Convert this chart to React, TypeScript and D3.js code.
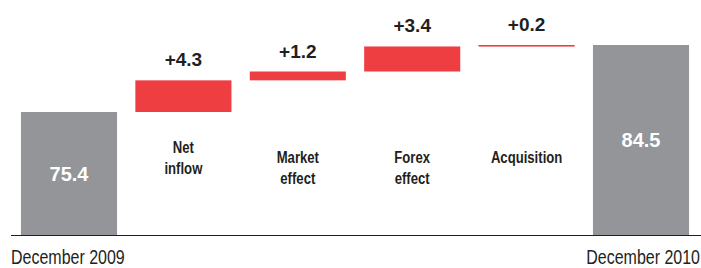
import React from "react";
import * as d3 from "d3";

const categories = ["December 2009", "Net inflow", "Market effect", "Forex effect", "Acquisition", "December 2010"];
const categoryLines = [[], ["Net", "inflow"], ["Market", "effect"], ["Forex", "effect"], ["Acquisition"], []];
const values = [75.4, 4.3, 1.2, 3.4, 0.2, 84.5];
const kinds = ["total", "delta", "delta", "delta", "delta", "total"];
const valueLabels = ["75.4", "+4.3", "+1.2", "+3.4", "+0.2", "84.5"];
const labelFirstBaseline = [0, 153, 163, 163, 163, 0];

const W = 701, H = 268;
const GRAY = "#939598";
const RED = "#EF3E42";
const DARK = "#231F20";
const SANS = "'Liberation Sans', Arial, sans-serif";
const NARROW_SCALE = 0.82;

function NarrowText(props: { x: number; y: number; anchor?: string; size: number; bold?: boolean; children: React.ReactNode }) {
  return (
    <text
      transform={`translate(${props.x},${props.y}) scale(${NARROW_SCALE},1)`}
      textAnchor={props.anchor || "middle"}
      fill={DARK}
      fontFamily={SANS}
      fontWeight={props.bold ? "bold" : "normal"}
      fontSize={props.size}
    >
      {props.children}
    </text>
  );
}

export default function App() {
  const x = d3.scaleBand<string>().domain(categories).range([11.8, 698.2]).paddingInner(0.16).paddingOuter(0.08);
  const y = d3.scaleLinear().domain([58.7, 84.5]).range([235, 45]);
  const base = y.domain()[0];

  let running = 0;
  const bars = categories.map((c, i) => {
    let lo: number, hi: number;
    if (kinds[i] === "total") {
      lo = base; hi = values[i]; running = values[i];
    } else {
      lo = running; hi = running + values[i]; running = hi;
    }
    return { c, i, lo, hi };
  });

  return (
    <svg width={W} height={H} style={{ position: "absolute", left: 0, top: 0 }}>
      {bars.map((b) => {
        const x0 = x(b.c)!;
        const bw = x.bandwidth();
        const yTop = y(b.hi);
        const yBot = y(b.lo);
        const cx = x0 + bw / 2;
        const isTotal = kinds[b.i] === "total";
        return (
          <g key={b.c}>
            <rect x={x0} y={yTop} width={bw} height={Math.max(yBot - yTop, 1.6)} fill={isTotal ? GRAY : RED} />
            {isTotal ? (
              <text x={cx} y={(yTop + yBot) / 2 + 7} textAnchor="middle" fill="#fff" fontFamily={SANS} fontWeight="bold" fontSize={20}>
                {valueLabels[b.i]}
              </text>
            ) : (
              <text x={cx} y={yTop - 14} textAnchor="middle" fill={DARK} fontFamily={SANS} fontWeight="bold" fontSize={19}>
                {valueLabels[b.i]}
              </text>
            )}
            {categoryLines[b.i].map((line, k) => (
              <NarrowText key={k} x={cx} y={labelFirstBaseline[b.i] + k * 21} size={16} bold>
                {line}
              </NarrowText>
            ))}
          </g>
        );
      })}
      <line x1={11} x2={701} y1={235.5} y2={235.5} stroke={DARK} strokeWidth={1} />
      <NarrowText x={11} y={264} anchor="start" size={19.5}>{categories[0]}</NarrowText>
      <NarrowText x={700} y={264} anchor="end" size={19.5}>{categories[5]}</NarrowText>
    </svg>
  );
}
